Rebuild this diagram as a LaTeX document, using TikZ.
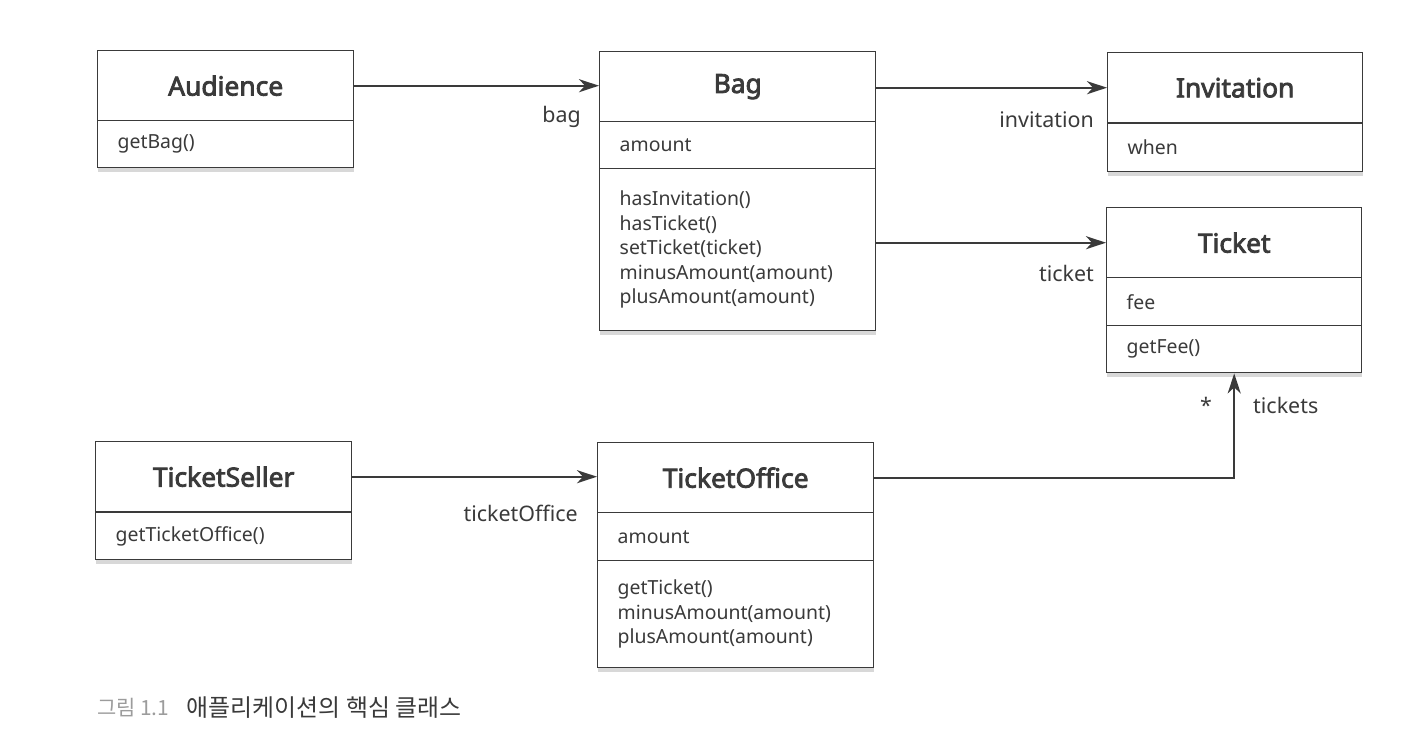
\documentclass[tikz,border=0pt]{standalone}
\usepackage{fontspec}
\setmainfont{Noto Sans}[BoldFont={Noto Sans}, BoldFeatures={FakeBold=3}]
\newfontfamily\kor{Noto Sans CJK KR}
\usetikzlibrary{arrows.meta, shadows, positioning}
\definecolor{ink}{HTML}{3A3A3A}
\definecolor{capgray}{HTML}{9C9C9C}

\begin{document}
\begin{tikzpicture}[x=1bp, y=-1bp,
  every node/.style={text=ink},
  head/.style={draw=ink, line width=1.4bp, fill=white, anchor=north west,
    minimum height=70bp, inner sep=0pt,
    font=\fontsize{26.5}{30}\selectfont\bfseries,
    drop shadow={shadow xshift=0pt, shadow yshift=-4pt, fill=black!30, opacity=.5}},
  part/.style={draw=ink, line width=1.4bp, fill=white, anchor=north west,
    inner xsep=20bp, inner ysep=0pt, align=left,
    font=\fontsize{19.5}{24.5}\selectfont,
    drop shadow={shadow xshift=0pt, shadow yshift=-4pt, fill=black!30, opacity=.5}},
  lbl/.style={font=\fontsize{21.5}{26}\selectfont, inner sep=0pt},
  assoc/.style={-{Stealth[length=20bp, width=13bp, inset=6bp]}, draw=ink, line width=2.2bp}]
  \useasboundingbox (0,0) rectangle (1401,737);

  % Audience
  \node[head, minimum width=256bp] (aud) at (97,50) {Audience};
  \node[part, text width=216bp, minimum height=47bp] (audm) at (97,120) {getBag()};

  % Bag
  \node[head, minimum width=276bp] (bag) at (599,51) {Bag};
  \node[part, text width=236bp, minimum height=47bp] (baga) at (599,121) {amount};
  \node[part, text width=236bp, minimum height=162bp] (bagm) at (599,168)
    {hasInvitation()\\hasTicket()\\setTicket(ticket)\\minusAmount(amount)\\plusAmount(amount)};

  % Invitation
  \node[head, minimum width=255bp] (inv) at (1107,52) {Invitation};
  \node[part, text width=215bp, minimum height=48bp] (inva) at (1107,123) {when};

  % Ticket
  \node[head, minimum width=255bp] (tkt) at (1106,207) {Ticket};
  \node[part, text width=215bp, minimum height=48bp] (tkta) at (1106,277) {fee};
  \node[part, text width=215bp, minimum height=47bp] (tktm) at (1106,325) {getFee()};

  % TicketSeller
  \node[head, minimum width=256bp] (sel) at (95,441) {TicketSeller};
  \node[part, text width=216bp, minimum height=47bp] (selm) at (95,512) {getTicketOffice()};

  % TicketOffice
  \node[head, minimum width=276bp] (off) at (597,442) {TicketOffice};
  \node[part, text width=236bp, minimum height=48bp] (offa) at (597,512) {amount};
  \node[part, text width=236bp, minimum height=107bp] (offm) at (597,560)
    {getTicket()\\minusAmount(amount)\\plusAmount(amount)};

  % role names
  \node[lbl, anchor=east] (lbag) at (581,117) {bag};
  \node[lbl, anchor=east] (linv) at (1094,120) {invitation};
  \node[lbl, anchor=east] (ltkt) at (1094,273) {ticket};
  \node[lbl, anchor=east] (loff) at (578,513) {ticketOffice};
  \node[lbl, anchor=west] (ltkts) at (1253,405) {tickets};
  \node[lbl] (lmany) at (1206,405) {*};

  \draw[assoc] (aud.east) -- (aud.east -| bag.west);
  \draw[assoc] (inv.west -| bag.east) -- (inv.west);
  \draw[assoc] (tkt.west -| bagm.east) -- (tkt.west);
  \draw[assoc] (sel.east) -- (sel.east -| off.west);
  \draw[assoc] (off.east) -| (tktm.south);

  % caption
  \node[anchor=west, inner sep=0pt, text=capgray, font=\kor\fontsize{21}{25}\selectfont]
    (fig) at (97,708) {그림 1.1};
  \node[right=17bp of fig, inner sep=0pt, font=\kor\fontsize{24}{28}\selectfont]
    (figtxt) {애플리케이션의 핵심 클래스};
\end{tikzpicture}
\end{document}
